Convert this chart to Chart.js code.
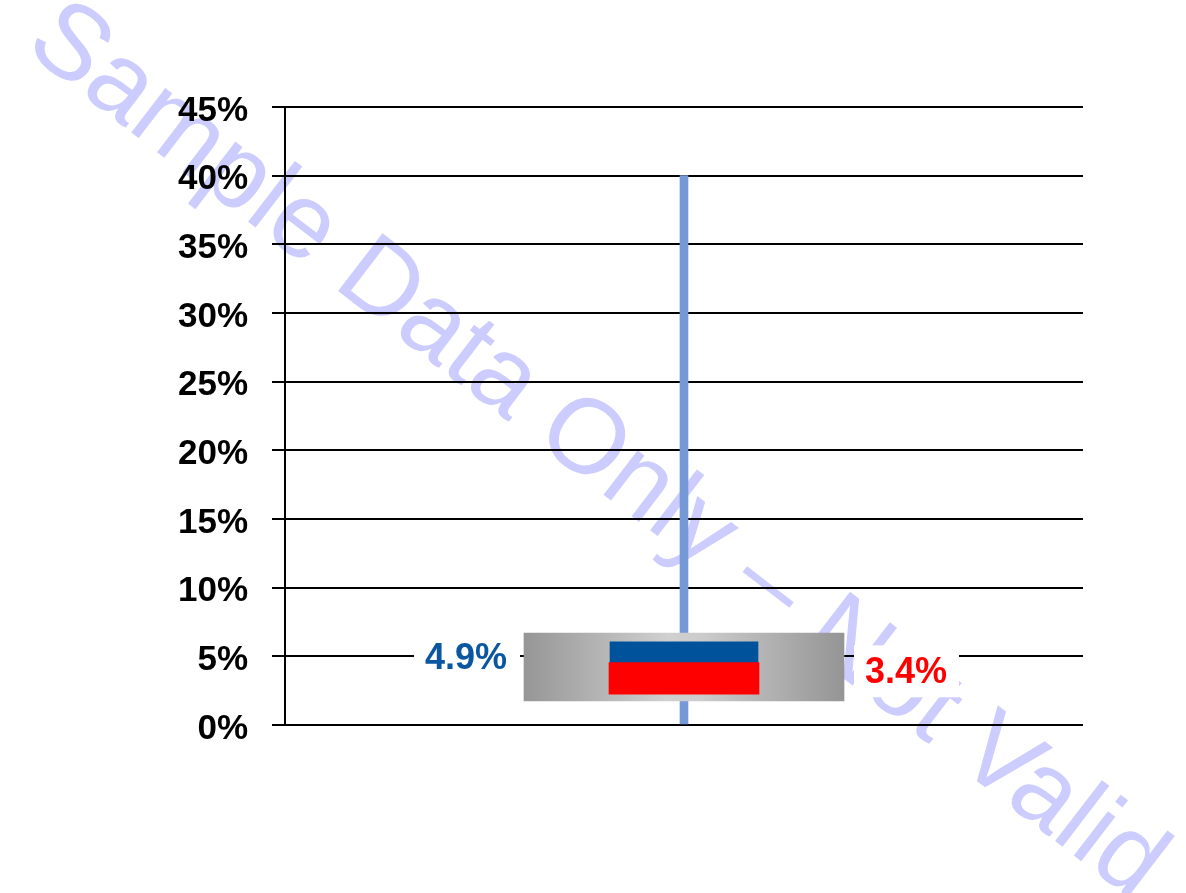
<!DOCTYPE html>
<html>
<head>
<meta charset="utf-8">
<script src="https://cdn.jsdelivr.net/npm/chart.js@4.4.0/dist/chart.umd.min.js"></script>
<style>
  html, body { margin: 0; padding: 0; background: #fff; }
  #wrap { width: 1186px; height: 893px; position: relative; }
</style>
</head>
<body>
<div id="wrap"><canvas id="chart"></canvas></div>
<script>
// values
const categories = [''];
const rangeLow = [0];
const rangeHigh = [40];
const boxLow = [1.75];
const boxHigh = [6.7];
const blueValue = [4.9];
const redValue = [3.4];
const blueLabels = ['4.9%'];
const redLabels = ['3.4%'];
const yMin = 0;
const yMax = 45;
const yStep = 5;
const watermarkText = 'Sample Data Only \u2013 Not Valid';

// half height of the blue / red markers, in % units
const markerHalf = 1.15;
const FONT = '"Liberation Sans", Arial, sans-serif';

const floating = (lo, hi) => lo.map((v, i) => [v, hi[i]]);
const around = vals => vals.map(v => [v - markerHalf, v + markerHalf]);

function grayGradient(ctx) {
    const chart = ctx.chart;
    const area = chart.chartArea;
    if (!area) return '#aaaaaa';
    const mid = (area.left + area.right) / 2;
    const g = chart.ctx.createLinearGradient(mid - 160, 0, mid + 160, 0);
    g.addColorStop(0, '#969696');
    g.addColorStop(0.45, '#d0d0d0');
    g.addColorStop(0.55, '#cccccc');
    g.addColorStop(1, '#959595');
    return g;
}

// watermark under everything
const watermark = {
    id: 'watermark',
    beforeDraw(chart) {
        const c = chart.ctx;
        c.save();
        c.translate(596, 452);
        c.rotate(37.5 * Math.PI / 180);
        c.font = '106px ' + FONT;
        c.fillStyle = '#ccccff';
        c.textAlign = 'center';
        c.textBaseline = 'middle';
        c.fillText(watermarkText, 0, 0);
        c.restore();
    }
};

// value labels with white backing, beside the gray box
const valueLabels = {
    id: 'valueLabels',
    afterDatasetsDraw(chart) {
        const c = chart.ctx;
        const y = chart.scales.y;
        const box = chart.getDatasetMeta(2).data[0];
        const left = box.x - box.width / 2;
        const right = box.x + box.width / 2;
        c.save();
        c.font = 'bold 36px ' + FONT;
        c.textBaseline = 'middle';
        c.textAlign = 'center';

        // blue one, left of the box
        let py = y.getPixelForValue(blueValue[0]);
        c.fillStyle = '#ffffff';
        c.fillRect(left - 110, py - 24, 106, 48);
        c.fillStyle = '#0b56a0';
        c.fillText(blueLabels[0], left - 58, py + 1);

        // red one, right of the box
        py = y.getPixelForValue(redValue[0]) - 6;
        c.fillStyle = '#ffffff';
        c.fillRect(right + 10, py - 27, 105, 52);
        c.fillStyle = '#ff0000';
        c.fillText(redLabels[0], right + 62, py + 1);
        c.restore();
    }
};

const ctx = document.getElementById('chart').getContext('2d');
new Chart(ctx, {
    type: 'bar',
    data: {
        labels: categories,
        datasets: [
            { data: around(redValue), backgroundColor: '#ff0000', barThickness: 150 },
            { data: around(blueValue), backgroundColor: '#00529b', barThickness: 148 },
            { data: floating(boxLow, boxHigh), backgroundColor: grayGradient, barThickness: 320 },
            { data: floating(rangeLow, rangeHigh), backgroundColor: '#7599d6', barThickness: 8 }
        ]
    },
    options: {
        responsive: true,
        maintainAspectRatio: false,
        animation: false,
        grouped: false,
        layout: { padding: { top: 107, right: 103, bottom: 168, left: 0 } },
        plugins: {
            legend: { display: false },
            tooltip: { enabled: false }
        },
        scales: {
            x: { display: false },
            y: {
                min: yMin,
                max: yMax,
                ticks: {
                    stepSize: yStep,
                    padding: 24,
                    labelOffset: 4,
                    color: '#000',
                    font: { family: FONT, size: 35, weight: 'bold' },
                    callback: v => v + '%'
                },
                grid: { color: '#000', lineWidth: 2, tickLength: 13 },
                border: { color: '#000', width: 2 },
                afterFit: s => { s.width = 285; }
            }
        }
    },
    plugins: [watermark, valueLabels]
});
</script>
</body>
</html>
